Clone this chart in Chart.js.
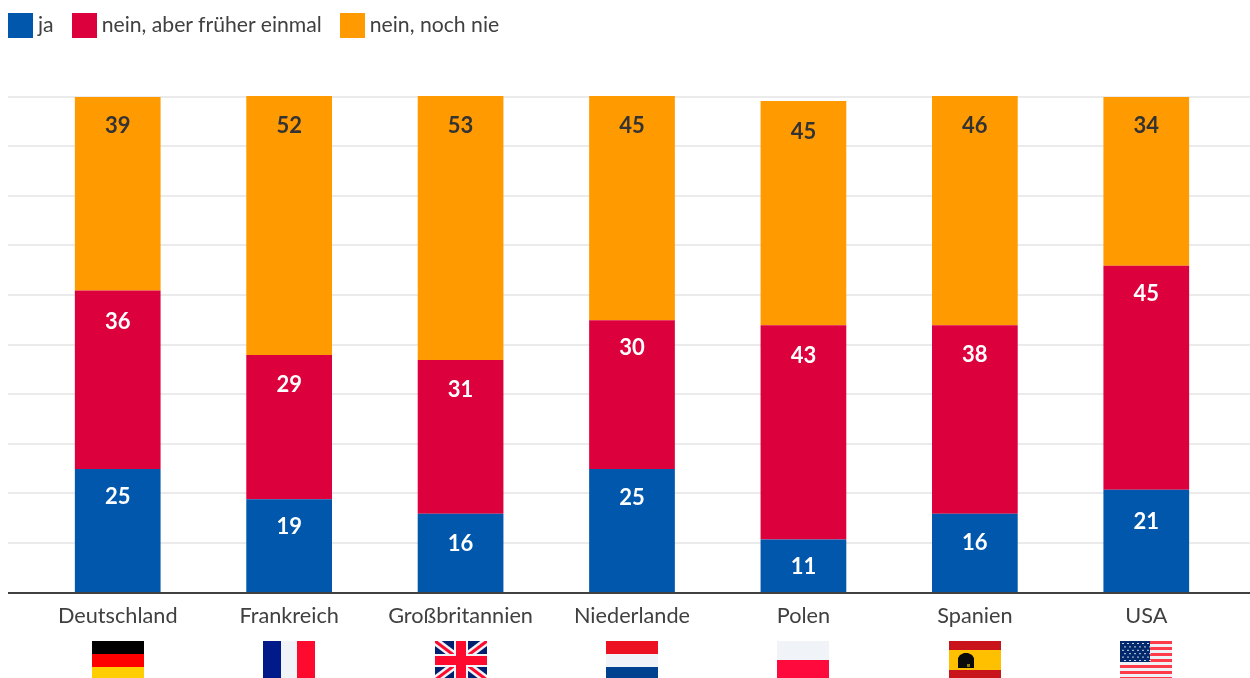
<!DOCTYPE html>
<html><head><meta charset="utf-8">
<script src="https://cdn.jsdelivr.net/npm/chart.js@4"></script>
<style>
html,body{margin:0;padding:0;background:#fff;overflow:hidden}
#wrap{position:relative;width:1250px;height:678px}
canvas{position:absolute;left:0;top:0}
#legend{position:absolute;left:8px;top:13px;height:25px;display:flex;font:21.2px Lato,sans-serif;color:#404040;line-height:23px}
#legend span.i{display:flex;margin-right:18px}
#legend i{display:block;width:25px;height:25px;margin-right:5px}
</style></head><body>
<div id="wrap"><canvas id="c" width="1250" height="678"></canvas><div id="legend"></div></div>
<script>
const categories=["Deutschland","Frankreich","Großbritannien","Niederlande","Polen","Spanien","USA"];
const seriesNames=["ja","nein, aber früher einmal","nein, noch nie"];
const ja=[25,18.9,16,25,10.8,16,20.8];
const frueher=[36,29.1,31,30,43.2,38,45.2];
const nie=[39,52.2,53.2,45.2,45.2,46.2,34];
const colors=["#0057AB","#DC003C","#FF9A00"];
const labelColors=["#fff","#fff","#333333"];
const labelDrop=[[28,28,30,29,27,29,32],[31,30,30,28,31,30,28],[29,30,30,30,31,30,29]];

function flag(ctx,name,x,y,w,h){
  const r=(c,a,b,d,e)=>{ctx.fillStyle=c;ctx.fillRect(x+a,y+b,d,e)};
  ctx.save();ctx.beginPath();ctx.rect(x,y,w,h);ctx.clip();
  if(name==="Deutschland"){r("#000",0,0,w,13);r("#f00",0,13,w,13);r("#FFCE00",0,26,w,13)}
  if(name==="Frankreich"){r("#001A8A",0,0,18,h);r("#F0F3F7",18,0,16,h);r("#FF0A2F",34,0,18,h)}
  if(name==="Großbritannien"){
    r("#00206F",0,0,w,h);
    const ln=(c,lw,a,b,d,e)=>{ctx.strokeStyle=c;ctx.lineWidth=lw;ctx.beginPath();ctx.moveTo(x+a,y+b);ctx.lineTo(x+d,y+e);ctx.stroke()};
    ln("#F0F3F7",8,0,0,w,h);ln("#F0F3F7",8,w,0,0,h);
    ln("#FF0A2F",3,0,0,w,h);ln("#FF0A2F",3,w,0,0,h);
    r("#F0F3F7",19,0,14,h);r("#F0F3F7",0,13,w,13);
    r("#FF0A2F",21,0,10,h);r("#FF0A2F",0,15,w,9);
  }
  if(name==="Niederlande"){r("#ED1221",0,0,w,13);r("#F0F3F7",0,13,w,13);r("#00428F",0,26,w,13)}
  if(name==="Polen"){r("#F0F3F7",0,0,w,19);r("#FF0A3C",0,19,w,20)}
  if(name==="Spanien"){
    r("#C8141A",0,0,w,9);r("#FFC000",0,9,w,20);r("#C8141A",0,29,w,10);
    ctx.fillStyle="#0a0a0a";ctx.beginPath();
    ctx.moveTo(x+9,y+27);ctx.lineTo(x+9,y+17);ctx.lineTo(x+11,y+14);ctx.lineTo(x+15,y+12);ctx.lineTo(x+19,y+12);ctx.lineTo(x+23,y+14);ctx.lineTo(x+25,y+17);ctx.lineTo(x+25,y+27);ctx.closePath();ctx.fill();
    r("#8a7a10",18,23,3,3);
  }
  if(name==="USA"){
    r("#EEF1F5",0,0,w,h);
    for(let i=0;i<7;i++){r("#FF3B49",0,i*6,w,3)}
    r("#02296B",0,0,30,21);
    ctx.fillStyle="#C8D4E8";
    for(let a=0;a<6;a++)for(let b=0;b<6;b++){ctx.fillRect(x+2+b*5+(a%2)*2,y+2+a*3.4,2,1)}
  }
  ctx.restore();
}

const decor={
  id:"decor",
  beforeDatasetsDraw(chart){
    const ctx=chart.ctx,ys=chart.scales.y;
    ctx.save();
    ctx.strokeStyle="#EBEBEB";ctx.lineWidth=2;
    ys.ticks.forEach(t=>{if(t.value===0)return;const p=Math.floor(ys.getPixelForValue(t.value));ctx.beginPath();ctx.moveTo(8,p);ctx.lineTo(1250,p);ctx.stroke()});
    ctx.restore();
  },
  afterDatasetsDraw(chart){
    const ctx=chart.ctx,ys=chart.scales.y,xs=chart.scales.x;
    ctx.save();
    ctx.strokeStyle="#404040";ctx.lineWidth=2;
    const b=Math.round(ys.getPixelForValue(0));
    ctx.beginPath();ctx.moveTo(8,b);ctx.lineTo(1250,b);ctx.stroke();
    ctx.font="bold 22px Lato";ctx.textAlign="center";ctx.textBaseline="middle";
    chart.data.datasets.forEach((ds,di)=>{
      chart.getDatasetMeta(di).data.forEach((el,i)=>{
        ctx.fillStyle=labelColors[di];
        ctx.fillText(String(Math.round(ds.data[i])),el.x,el.y+labelDrop[di][i]);
      });
    });
    categories.forEach((n,i)=>flag(ctx,n,Math.round(xs.getPixelForValue(i))-26,641,52,39));
    ctx.restore();
  }
};

const chart=new Chart(document.getElementById("c"),{
  type:"bar",
  data:{labels:categories,datasets:[ja,frueher,nie].map((d,i)=>({label:seriesNames[i],data:d,backgroundColor:colors[i],clip:false,barPercentage:0.5,categoryPercentage:1}))},
  options:{
    responsive:false,animation:false,
    layout:{padding:{left:32,right:18,top:97,bottom:0}},
    plugins:{legend:{display:false},tooltip:{enabled:false}},
    scales:{
      x:{stacked:true,grid:{display:false},border:{display:false},
         afterFit(s){s.height=85},
         ticks:{color:"#404040",font:{family:"Lato",size:21.7},padding:2,maxRotation:0,autoSkip:false}},
      y:{stacked:true,min:0,max:100,display:true,grid:{display:false},border:{display:false},
         afterFit(s){s.width=0},
         ticks:{display:false,stepSize:10}}
    }
  },
  plugins:[decor]
});
document.getElementById("legend").innerHTML=seriesNames.map((n,i)=>`<span class="i"><i style="background:${colors[i]}"></i>${n}</span>`).join("");
</script></body></html>
